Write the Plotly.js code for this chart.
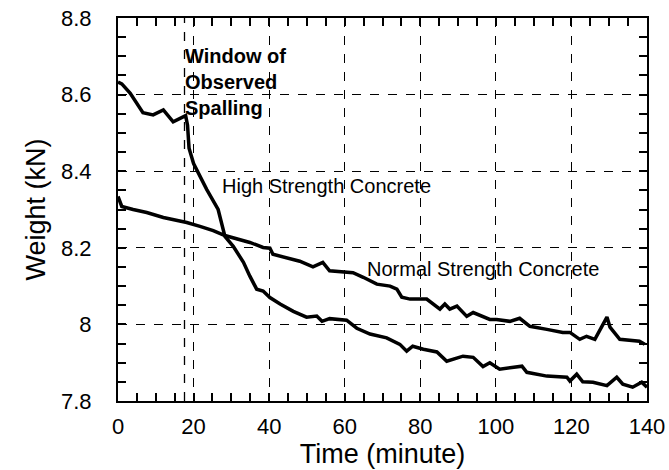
<!DOCTYPE html>
<html>
<head>
<meta charset="utf-8">
<script src="https://cdn.plot.ly/plotly-3.0.1.min.js"></script>
<style>html,body{margin:0;padding:0;background:#fff;}#chart{width:669px;height:470px;}</style>
</head>
<body>
<div id="chart"></div>
<script>
// High Strength Concrete: time (minute) and weight (kN)
const hscTime = [0,1,3.2,6.6,9.3,12,14.6,17.9,18.4,18.8,20,23.5,26.5,28.3,30.5,33.2,34.9,36.7,38.4,40.2,42.9,46.4,49.9,52.6,54,56,60.5,63.2,66.7,71.1,74.6,76.4,78,80.8,84.4,87,91.3,94,96.6,98.4,101,103.7,106.9,108.2,113.5,118.8,119.6,121.4,123,125.7,129.4,132,133.6,136.2,138.6,140];
const hscWeight = [8.633,8.628,8.604,8.553,8.547,8.56,8.529,8.545,8.52,8.46,8.42,8.352,8.30,8.23,8.204,8.162,8.126,8.092,8.087,8.07,8.053,8.034,8.019,8.022,8.008,8.015,8.011,7.99,7.975,7.965,7.948,7.93,7.943,7.935,7.928,7.904,7.917,7.914,7.89,7.9,7.883,7.887,7.891,7.875,7.865,7.862,7.852,7.87,7.85,7.849,7.84,7.862,7.844,7.836,7.849,7.836];

// Normal Strength Concrete
const nscTime = [0,1,4,7.6,12,14.6,18.2,21.7,25.2,28.3,32.3,34.9,38.4,40.2,41,44.6,48.1,51.6,54.2,56,59.5,62.2,64.9,68.5,72,73.8,75.1,77.3,81.7,85.2,86.5,87.8,89.7,92.3,94,96.6,98.4,100.2,103.7,106.3,109,113.5,117.7,119.6,122.2,124,126.2,129.4,130.2,132.8,135.4,138,139.4];
const nscWeight = [8.334,8.308,8.30,8.292,8.279,8.274,8.266,8.256,8.245,8.232,8.222,8.214,8.201,8.199,8.183,8.175,8.165,8.15,8.162,8.14,8.138,8.135,8.123,8.105,8.1,8.092,8.071,8.066,8.066,8.04,8.053,8.04,8.048,8.021,8.031,8.021,8.013,8.013,8.008,8.016,7.995,7.987,7.979,7.979,7.961,7.969,7.961,8.019,7.993,7.961,7.959,7.956,7.948];

const windowStart = 17.6;
const FONT = 'Liberation Sans, Arial, sans-serif';

const traces = [
  {x: hscTime, y: hscWeight, mode: 'lines', line: {color: '#000', width: 3.5}, name: 'High Strength Concrete', hoverinfo: 'skip'},
  {x: nscTime, y: nscWeight, mode: 'lines', line: {color: '#000', width: 3.5}, name: 'Normal Strength Concrete', hoverinfo: 'skip'}
];

const layout = {
  width: 669, height: 470,
  margin: {l: 118, r: 22, t: 18, b: 69},
  paper_bgcolor: '#fff', plot_bgcolor: '#fff',
  showlegend: false,
  font: {family: FONT, color: '#000'},
  xaxis: {
    showline: true, linecolor: '#000', linewidth: 2, mirror: 'allticks',
    ticks: 'inside', ticklen: 8, tickwidth: 2, tickcolor: '#000',
    showgrid: true, gridcolor: '#000', gridwidth: 1.2, griddash: 'dash', zeroline: false,
    tickfont: {family: FONT, size: 22, color: '#000'},
    range: [0, 140], tick0: 0, dtick: 20, ticklabelstandoff: 5,
    minor: {ticks: 'inside', tick0: 0, dtick: 5, ticklen: 8, tickwidth: 2, tickcolor: '#000', showgrid: false},
    title: {text: 'Time (minute)', font: {family: FONT, size: 27, color: '#000'}, standoff: 4}
  },
  yaxis: {
    showline: true, linecolor: '#000', linewidth: 2, mirror: 'allticks',
    ticks: 'inside', ticklen: 8, tickwidth: 2, tickcolor: '#000',
    showgrid: true, gridcolor: '#000', gridwidth: 1.2, griddash: 'dash', zeroline: false,
    tickfont: {family: FONT, size: 22, color: '#000'},
    range: [7.8, 8.8], tick0: 7.8, dtick: 0.2, ticklabelstandoff: 20,
    minor: {ticks: 'inside', tick0: 7.8, dtick: 0.05, ticklen: 8, tickwidth: 2, tickcolor: '#000', showgrid: false},
    title: {text: 'Weight (kN)', font: {family: FONT, size: 27, color: '#000'}, standoff: 8}
  },
  shapes: [
    {type: 'line', xref: 'x', yref: 'paper', x0: windowStart, x1: windowStart, y0: 0, y1: 1,
     line: {color: '#000', width: 1.3, dash: 'dash'}}
  ],
  annotations: [
    {x: 17.2, y: 8.735, xref: 'x', yref: 'y', xanchor: 'left', yanchor: 'top', align: 'left', showarrow: false,
     text: '<b>Window of<br>Observed<br>Spalling</b>', font: {family: FONT, size: 20, color: '#000'}},
    {x: 27, y: 8.3625, xref: 'x', yref: 'y', xanchor: 'left', yanchor: 'middle', showarrow: false,
     text: 'High Strength Concrete', font: {family: FONT, size: 20, color: '#000'}},
    {x: 65.3, y: 8.144, xref: 'x', yref: 'y', xanchor: 'left', yanchor: 'middle', showarrow: false,
     text: 'Normal Strength Concrete', font: {family: FONT, size: 20, color: '#000'}}
  ]
};

Plotly.newPlot('chart', traces, layout, {displayModeBar: false});
</script>
</body>
</html>
